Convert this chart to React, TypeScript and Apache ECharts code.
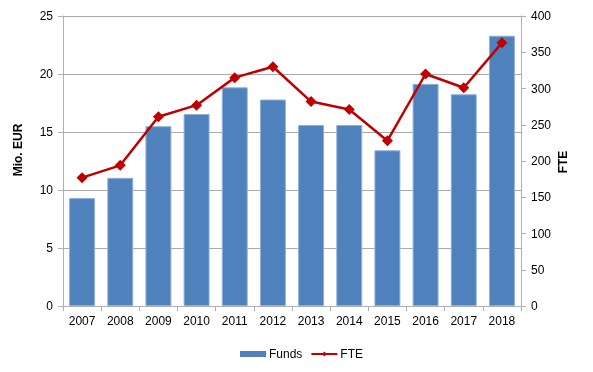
import React, { useEffect, useRef } from "react";
import * as echarts from "echarts";

const years = ["2007", "2008", "2009", "2010", "2011", "2012", "2013", "2014", "2015", "2016", "2017", "2018"];
const funds = [9.3, 11.05, 15.5, 16.55, 18.85, 17.8, 15.6, 15.6, 13.42, 19.15, 18.25, 23.3];
const fte = [177, 194, 261, 277, 315, 330, 282, 271, 228, 320, 301, 363];
const leftTitle = "Mio. EUR";
const rightTitle = "FTE";

const FONT = "Liberation Sans, Arial, sans-serif";

export default function App() {
  const ref = useRef<HTMLDivElement>(null);
  useEffect(() => {
    const chart = echarts.init(ref.current!, null, { renderer: "svg" });
    chart.setOption({
      animation: false,
      textStyle: { fontFamily: FONT, color: "#000" },
      grid: { left: 63, right: 72, top: 16, bottom: 66 },
      graphic: [
        {
          type: "text",
          x: 18,
          y: 150,
          rotation: Math.PI / 2,
          style: {
            text: leftTitle,
            font: "bold 12px " + FONT,
            fill: "#000",
            align: "center",
            verticalAlign: "middle",
          },
        },
        {
          type: "text",
          x: 563,
          y: 162,
          rotation: Math.PI / 2,
          style: {
            text: rightTitle,
            font: "bold 12px " + FONT,
            fill: "#000",
            align: "center",
            verticalAlign: "middle",
          },
        },
      ],
      legend: {
        top: 343,
        left: 235,
        itemWidth: 26,
        itemHeight: 6,
        itemGap: 8,
        textStyle: { fontFamily: FONT, fontSize: 12, color: "#000", padding: [0, 0, 0, -2] },
        data: [
          { name: "Funds", icon: "rect", itemStyle: { borderWidth: 0 } },
          { name: "FTE" },
        ],
      },
      xAxis: {
        type: "category",
        data: years,
        axisLine: { lineStyle: { color: "#b0b0b0" } },
        axisTick: { show: true, length: 5, lineStyle: { color: "#b0b0b0" } },
        axisLabel: { fontFamily: FONT, fontSize: 12, color: "#000", margin: 9 },
      },
      yAxis: [
        {
          type: "value",
          min: 0,
          max: 25,
          interval: 5,
          axisLine: { show: true, lineStyle: { color: "#b0b0b0" } },
          axisTick: { show: true, length: 5, lineStyle: { color: "#b0b0b0" } },
          axisLabel: { fontFamily: FONT, fontSize: 12, color: "#000", margin: 10 },
          splitLine: { lineStyle: { color: "#ababab" } },
        },
        {
          type: "value",
          min: 0,
          max: 400,
          interval: 50,
          axisLine: { show: true, lineStyle: { color: "#b0b0b0" } },
          axisTick: { show: true, length: 5, lineStyle: { color: "#b0b0b0" } },
          axisLabel: { fontFamily: FONT, fontSize: 12, color: "#000", margin: 10 },
          splitLine: { show: false },
        },
      ],
      series: [
        {
          name: "Funds",
          type: "bar",
          data: funds,
          yAxisIndex: 0,
          barWidth: "68%",
          itemStyle: { color: "#4F81BD", borderColor: "#8fb0da", borderWidth: 1 },
        },
        {
          name: "FTE",
          type: "line",
          data: fte,
          yAxisIndex: 1,
          symbol: "diamond",
          symbolSize: 11,
          lineStyle: { color: "#C00000", width: 2.5 },
          itemStyle: { color: "#C00000" },
        },
      ],
    });
    return () => chart.dispose();
  }, []);
  return (
    <div
      ref={ref}
      style={{ position: "fixed", left: 0, top: 0, width: 593, height: 372 }}
    />
  );
}
